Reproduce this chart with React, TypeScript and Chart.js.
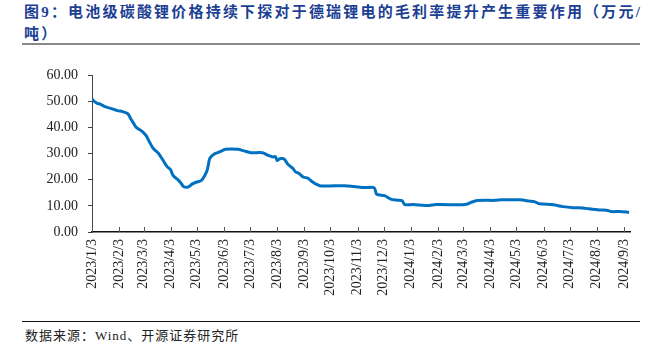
import React, { useEffect, useRef } from "react";
import { Chart, registerables } from "chart.js";

Chart.register(...registerables);

const titleLine1 = "图9：电池级碳酸锂价格持续下探对于德瑞锂电的毛利率提升产生重要作用（万元/";
const titleLine2 = "吨）";
const sourceText = "数据来源：Wind、开源证券研究所";

const dates = [
  "2023-01-03", "2023-01-06", "2023-01-09", "2023-01-13", "2023-01-17", "2023-01-24",
  "2023-02-01", "2023-02-07", "2023-02-13", "2023-02-16", "2023-02-20", "2023-02-23",
  "2023-03-02", "2023-03-06", "2023-03-10", "2023-03-14", "2023-03-20", "2023-03-25",
  "2023-03-30", "2023-04-03", "2023-04-06", "2023-04-11", "2023-04-15", "2023-04-18",
  "2023-04-23", "2023-04-28", "2023-05-04", "2023-05-08", "2023-05-12", "2023-05-15",
  "2023-05-18", "2023-05-23", "2023-05-29", "2023-06-05", "2023-06-19", "2023-06-26",
  "2023-07-04", "2023-07-17", "2023-07-23", "2023-07-29", "2023-08-01", "2023-08-03",
  "2023-08-06", "2023-08-11", "2023-08-15", "2023-08-21", "2023-08-24", "2023-08-28",
  "2023-09-02", "2023-09-07", "2023-09-10", "2023-09-13", "2023-09-16", "2023-09-22",
  "2023-10-19", "2023-10-30", "2023-11-11", "2023-11-22", "2023-11-25", "2023-12-04",
  "2023-12-11", "2023-12-17", "2023-12-24", "2023-12-27", "2024-01-06", "2024-01-17",
  "2024-01-24", "2024-02-01", "2024-03-02", "2024-03-08", "2024-03-12", "2024-03-19",
  "2024-04-09", "2024-04-16", "2024-05-07", "2024-05-18", "2024-05-24", "2024-05-29",
  "2024-06-14", "2024-06-25", "2024-07-07", "2024-07-18", "2024-07-24", "2024-08-06",
  "2024-08-14", "2024-08-20", "2024-08-29", "2024-09-09",
];

const prices = [
  50.8, 49.8, 49.2, 48.8, 48.0, 47.3,
  46.4, 46.0, 45.2, 43.5, 41.3, 39.9,
  38.3, 36.8, 34.3, 32.0, 30.1, 27.6,
  25.0, 23.8, 21.5, 20.1, 18.6, 17.3,
  17.2, 18.4, 19.2, 19.6, 21.5, 23.8,
  28.2, 29.8, 30.6, 31.6, 31.6, 31.0,
  30.3, 30.3, 29.4, 28.7, 28.8, 27.3,
  28.0, 27.9, 26.0, 24.3, 23.0, 22.4,
  21.0, 20.6, 19.8, 19.0, 18.4, 17.6,
  17.7, 17.4, 17.0, 16.9, 14.4, 13.9,
  12.6, 12.2, 12.0, 10.5, 10.5, 10.2,
  10.1, 10.5, 10.4, 10.7, 11.3, 12.0,
  12.1, 12.3, 12.3, 11.8, 11.5, 10.8,
  10.4, 9.7, 9.3, 9.2, 8.9, 8.4,
  8.3, 7.8, 7.8, 7.5,
];

const tickLabels = [
  "2023/1/3", "2023/2/3", "2023/3/3", "2023/4/3", "2023/5/3", "2023/6/3", "2023/7/3",
  "2023/8/3", "2023/9/3", "2023/10/3", "2023/11/3", "2023/12/3", "2024/1/3", "2024/2/3",
  "2024/3/3", "2024/4/3", "2024/5/3", "2024/6/3", "2024/7/3", "2024/8/3", "2024/9/3",
];

const yMin = 0;
const yMax = 60;
const yStep = 10;

const DAY = 86400000;
const startTime = Date.UTC(2023, 0, 3);
const toDay = (iso: string) => {
  const [y, m, d] = iso.split(/[-/]/).map(Number);
  return Math.round((Date.UTC(y, m - 1, d) - startTime) / DAY);
};
const tickValues = tickLabels.map(toDay);
const xMax = toDay("2024-09-10");

const innerTicks = {
  id: "innerTicks",
  afterDatasetsDraw(chart: any) {
    const xs = chart.scales.x;
    const ctx = chart.ctx;
    const b = chart.chartArea.bottom;
    ctx.save();
    ctx.strokeStyle = "#555";
    ctx.lineWidth = 1;
    xs.ticks.forEach((t: any) => {
      const px = Math.round(xs.getPixelForValue(t.value)) + 0.5;
      ctx.beginPath();
      ctx.moveTo(px, b);
      ctx.lineTo(px, b - 5);
      ctx.stroke();
    });
    ctx.restore();
  },
};

export default function App() {
  const ref = useRef<HTMLCanvasElement | null>(null);
  useEffect(() => {
    if (!ref.current) return;
    const chart = new Chart(ref.current, {
      type: "line",
      data: {
        datasets: [
          {
            label: "电池级碳酸锂",
            data: dates.map((d, i) => ({ x: toDay(d), y: prices[i] })),
            borderColor: "#0070C0",
            backgroundColor: "#0070C0",
            borderWidth: 3,
            pointRadius: 0,
            tension: 0.3,
            fill: false,
          },
        ],
      },
      options: {
        animation: false,
        responsive: false,
        devicePixelRatio: 1,
        layout: { padding: { top: 20, right: 18, left: 0, bottom: 0 } },
        plugins: { legend: { display: false }, tooltip: { enabled: false } },
        scales: {
          x: {
            type: "linear",
            min: 0,
            max: xMax,
            afterBuildTicks: (s: any) => {
              s.ticks = tickValues.map((v) => ({ value: v }));
            },
            afterFit: (s: any) => {
              s.height = 73;
            },
            ticks: {
              autoSkip: false,
              maxRotation: 90,
              minRotation: 90,
              padding: 7,
              color: "#222",
              font: { family: "'Liberation Serif', serif", size: 14 },
              callback: (_v: any, i: number) => tickLabels[i],
            },
            grid: { display: true, drawOnChartArea: false, drawTicks: false },
            border: { display: true, color: "#111", width: 1.5 },
          },
          y: {
            min: yMin,
            max: yMax,
            afterFit: (s: any) => {
              s.width = 92;
            },
            ticks: {
              stepSize: yStep,
              padding: 10,
              color: "#222",
              font: { family: "'Liberation Serif', serif", size: 14 },
              callback: (v: any) => Number(v).toFixed(2),
            },
            grid: { display: true, drawOnChartArea: false, drawTicks: true, tickLength: 4, color: "#444" },
            border: { display: true, color: "#444", width: 1 },
          },
        },
      },
      plugins: [innerTicks],
    });
    return () => chart.destroy();
  }, []);

  return (
    <div style={{ position: "fixed", left: 0, top: 0, width: 648, height: 355, background: "#fff", overflow: "hidden" }}>
      <div
        style={{
          position: "absolute",
          left: 24,
          top: 1,
          width: 640,
          color: "#1c3f94",
          fontFamily: "'Liberation Serif', 'Noto Sans CJK SC', serif",
          fontWeight: 700,
          fontSize: 15,
          letterSpacing: 2.2,
          lineHeight: "22px",
          whiteSpace: "nowrap",
        }}
      >
        <div>{titleLine1}</div>
        <div>{titleLine2}</div>
      </div>
      <div style={{ position: "absolute", left: 22, top: 43, width: 618, height: 0, borderTop: "2px solid #888" }} />
      <div style={{ position: "absolute", left: 0, top: 55, width: 648, height: 250 }}>
        <canvas ref={ref} width={648} height={250} />
      </div>
      <div style={{ position: "absolute", left: 22, top: 321, width: 618, height: 0, borderTop: "1.5px solid #111" }} />
      <div
        style={{
          position: "absolute",
          left: 25,
          top: 327,
          color: "#222",
          fontFamily: "'Liberation Serif', 'Noto Sans CJK SC', serif",
          fontSize: 13,
          letterSpacing: 1,
          lineHeight: "18px",
          whiteSpace: "nowrap",
        }}
      >
        {sourceText}
      </div>
    </div>
  );
}
